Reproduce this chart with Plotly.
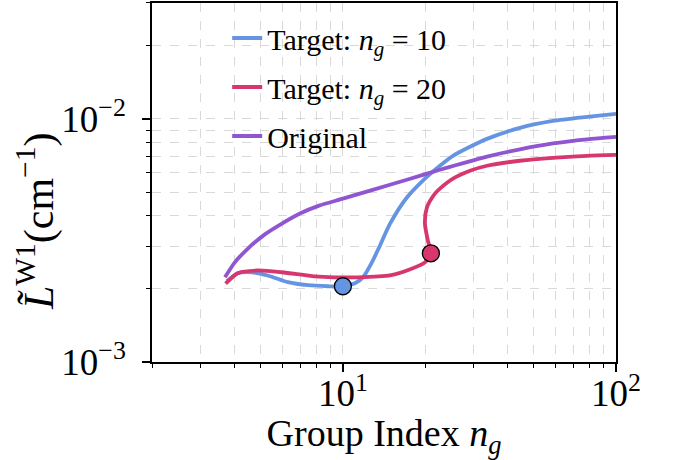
import plotly.graph_objects as go

# ---- data ----
blue_x = [3.76, 4.12, 4.64, 5.31, 6.29, 7.45, 8.81, 10.0, 11.07, 11.84, 12.77, 13.66,
          14.87, 17.15, 19.63, 22.66, 25.3, 29.2, 33.7, 44.5, 58.8, 78.3, 100.0]
blue_y = [0.00215, 0.00232, 0.00234, 0.00227, 0.00213, 0.00207, 0.00205, 0.00205,
          0.00211, 0.00223, 0.00257, 0.00301, 0.00370, 0.00475, 0.00558, 0.00642,
          0.00705, 0.00768, 0.00828, 0.00919, 0.00981, 0.0102, 0.0105]

red_x = [3.72, 4.12, 4.88, 5.98, 7.89, 9.35, 11.07, 14.87, 18.04, 19.97, 21.0, 20.47,
         19.97, 20.3, 21.73, 22.66, 25.3, 29.2, 33.7, 44.5, 58.8, 78.3, 100.0]
red_y = [0.00210, 0.00232, 0.00238, 0.00234, 0.00225, 0.00223, 0.00223, 0.00227,
         0.00243, 0.00257, 0.00280, 0.00316, 0.00371, 0.00432, 0.00493, 0.00517,
         0.00568, 0.00612, 0.00642, 0.00673, 0.00692, 0.00705, 0.00712]

orig_x = [3.70, 4.02, 4.49, 5.18, 5.98, 6.96, 8.18, 10.0, 12.86, 17.15, 22.66,
          33.7, 44.5, 58.8, 78.3, 100.0]
orig_y = [0.00223, 0.00257, 0.00293, 0.00335, 0.00371, 0.00408, 0.00440, 0.00470,
          0.00511, 0.00562, 0.00618, 0.00700, 0.00750, 0.00793, 0.00824, 0.00844]

marker_blue = (10.0, 0.00205)
marker_red = (21.0, 0.00280)

x_ticks = [10, 100]
x_ticktext = ["10<sup>1</sup>", "10<sup>2</sup>"]
x_minor = [2, 3, 4, 5, 6, 7, 8, 9, 20, 30, 40, 50, 60, 70, 80, 90]
y_ticks = [1e-3, 1e-2]
y_ticktext = ["10<sup>\u22123</sup>", "10<sup>\u22122</sup>"]
y_minor = [2e-3, 3e-3, 4e-3, 5e-3, 6e-3, 7e-3, 8e-3, 9e-3, 2e-2, 3e-2]

# ---- styles ----
C_BLUE = "#6595E2"
C_RED = "#D7376E"
C_PURP = "#9056D2"
FONT = "Liberation Serif"
LW = 3.8
SM = 0.7

fig = go.Figure()
fig.add_trace(go.Scatter(x=blue_x, y=blue_y, mode="lines",
                         line=dict(color=C_BLUE, width=LW, shape="spline", smoothing=SM),
                         name="Target: <i>n</i><sub><i>g</i></sub> = 10", legendgroup="a"))
fig.add_trace(go.Scatter(x=red_x, y=red_y, mode="lines",
                         line=dict(color=C_RED, width=LW, shape="spline", smoothing=SM),
                         name="Target: <i>n</i><sub><i>g</i></sub> = 20", legendgroup="b"))
fig.add_trace(go.Scatter(x=orig_x, y=orig_y, mode="lines",
                         line=dict(color=C_PURP, width=LW, shape="spline", smoothing=SM),
                         name="Original", legendgroup="c"))
fig.add_trace(go.Scatter(x=[marker_blue[0]], y=[marker_blue[1]], mode="markers", showlegend=False,
                         marker=dict(size=17, color=C_BLUE, line=dict(color="black", width=1.3))))
fig.add_trace(go.Scatter(x=[marker_red[0]], y=[marker_red[1]], mode="markers", showlegend=False,
                         marker=dict(size=17, color=C_RED, line=dict(color="black", width=1.3))))

grid = dict(showgrid=True, gridcolor="#d9d9d9", griddash="dash", gridwidth=1)

fig.update_layout(
    width=673, height=460,
    margin=dict(l=152, r=57, t=3, b=98),
    paper_bgcolor="white", plot_bgcolor="white",
    font=dict(family=FONT, color="black", size=37),
    showlegend=True,
    legend=dict(x=0.162, y=0.975, xanchor="left", yanchor="top", bgcolor="rgba(255,255,255,0)",
                font=dict(size=30, family=FONT), tracegroupgap=7),
    xaxis=dict(type="log", range=[0.30103, 2], tickvals=x_ticks, ticktext=x_ticktext,
               ticks="outside", ticklen=8, tickwidth=1.5, tickcolor="black",
               showline=True, linecolor="black", linewidth=1.5, mirror=True,
               tickfont=dict(size=37, family=FONT), automargin=False, ticklabelstandoff=-10,
               title=dict(text="Group Index <i>n</i><sub><i>g</i></sub>", font=dict(size=38, family=FONT), standoff=4),
               minor=dict(tickmode="array", tickvals=x_minor, ticks="outside", ticklen=4, tickwidth=1,
                          tickcolor="black", **grid),
               zeroline=False, **grid),
    yaxis=dict(type="log", range=[-3, -1.5229], tickvals=y_ticks, ticktext=y_ticktext,
               ticks="outside", ticklen=8, tickwidth=1.5, tickcolor="black",
               showline=True, linecolor="black", linewidth=1.5, mirror=True,
               tickfont=dict(size=37, family=FONT), automargin=False, ticklabelstandoff=9,
               minor=dict(tickmode="array", tickvals=y_minor, ticks="outside", ticklen=4, tickwidth=1,
                          tickcolor="black", **grid),
               zeroline=False, **grid),
    annotations=[dict(text="<i>L\u0303</i><sup>W1</sup>(cm<sup>\u22121</sup>)", textangle=-90,
                      xref="paper", yref="paper", x=-0.25, y=0.39, xanchor="center", yanchor="middle",
                      showarrow=False, font=dict(size=42, family=FONT))],
)

fig.write_html("out.html", config={"displayModeBar": False},
               post_script="document.body.style.margin='0';")
